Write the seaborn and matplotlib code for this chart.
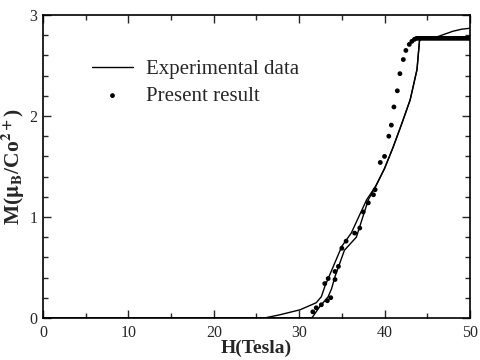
import matplotlib
matplotlib.use("Agg")
import matplotlib.pyplot as plt
import seaborn as sns
import pandas as pd
from matplotlib.ticker import MultipleLocator

# Experimental data, branch A (starts rising earlier, ends rising to 2.87)
exp_a_H = [0, 26.0, 27.7, 30.1, 32.0, 32.6, 33.0, 33.6, 35.0, 36.1, 37.9, 39.0, 40.0, 41.0, 42.0, 43.0, 43.8, 44.1, 44.5, 46.0, 47.0, 48.0, 49.0, 50.0]
exp_a_M = [0, 0.0, 0.03, 0.08, 0.15, 0.21, 0.31, 0.43, 0.71, 0.84, 1.17, 1.31, 1.48, 1.69, 1.92, 2.16, 2.46, 2.75, 2.78, 2.78, 2.81, 2.84, 2.86, 2.87]
# Experimental data, branch B (starts later, ends flat)
exp_b_H = [0, 31.5, 32.4, 33.4, 33.8, 34.2, 35.3, 36.7, 38.1, 39.0, 40.0, 41.0, 42.0, 43.0, 43.8, 44.1, 44.5, 50.0]
exp_b_M = [0, 0.0, 0.11, 0.21, 0.29, 0.41, 0.67, 0.80, 1.17, 1.31, 1.48, 1.69, 1.92, 2.16, 2.46, 2.75, 2.78, 2.78]

# Present result (calculated points)
calc_H = [31.6, 32.0, 32.6, 33.0, 33.3, 33.4, 33.7, 34.2, 34.2, 34.6, 35.0, 35.5, 36.5, 37.1,
          37.5, 38.1, 38.7, 38.9, 39.5, 40.0, 40.5, 40.8, 41.1, 41.5, 41.8, 42.2, 42.5, 42.9, 43.2,
          43.5, 43.75, 44.0, 44.25, 44.5, 44.75, 45.0, 45.25, 45.5, 45.75, 46.0, 46.25, 46.5, 46.75,
          47.0, 47.25, 47.5, 47.75, 48.0, 48.25, 48.5, 48.75, 49.0, 49.25, 49.5, 49.75, 50.0]
calc_M = [0.06, 0.10, 0.13, 0.34, 0.17, 0.39, 0.20, 0.38, 0.46, 0.51, 0.69, 0.76, 0.84, 0.89,
          1.05, 1.14, 1.22, 1.27, 1.54, 1.60, 1.80, 1.91, 2.09, 2.25, 2.42, 2.56, 2.65, 2.71, 2.74,
          2.76, 2.77, 2.77, 2.77, 2.77, 2.77, 2.77, 2.77, 2.77, 2.77, 2.77, 2.77, 2.77, 2.77,
          2.77, 2.77, 2.77, 2.77, 2.77, 2.77, 2.77, 2.77, 2.77, 2.77, 2.77, 2.77, 2.77]

x_ticks = [0, 10, 20, 30, 40, 50]
y_ticks = [0, 1, 2, 3]

sns.set_style("ticks")
plt.rcParams['font.family'] = ['Liberation Serif', 'DejaVu Serif']
plt.rcParams['mathtext.fontset'] = 'stix'

fig = plt.figure(figsize=(4.8, 3.6), dpi=100)
ax = fig.add_axes([0.0896, 0.117, 0.979 - 0.0896, 0.958 - 0.117])

df_a = pd.DataFrame({"H": exp_a_H, "M": exp_a_M})
df_b = pd.DataFrame({"H": exp_b_H, "M": exp_b_M})
df_c = pd.DataFrame({"H": calc_H, "M": calc_M})

sns.lineplot(data=df_a, x="H", y="M", sort=False, color="black", lw=1.0, ax=ax,
             label="Experimental data")
sns.lineplot(data=df_b, x="H", y="M", sort=False, color="black", lw=1.0, ax=ax)
sns.scatterplot(data=df_c, x="H", y="M", color="black", s=12, edgecolor="none", ax=ax,
                label="Present result")

ax.set_xlim(0, 50)
ax.set_ylim(0, 3)
ax.set_xticks(x_ticks)
ax.set_yticks(y_ticks)
ax.xaxis.set_minor_locator(MultipleLocator(5))
ax.yaxis.set_minor_locator(MultipleLocator(0.2))
ax.tick_params(which="both", direction="in", top=True, right=True, labelsize=11.5, width=1.0)
ax.tick_params(axis="x", pad=5)
ax.tick_params(axis="y", pad=4)
ax.tick_params(which="major", length=6)
ax.tick_params(which="minor", length=3.5)
for s in ax.spines.values():
    s.set_linewidth(1.2)
    s.set_color("black")

ax.set_xlabel("H(Tesla)", fontsize=14, fontweight="bold", labelpad=-1)
ax.set_ylabel(r"M($\mathbf{\mu}_\mathbf{B}$/Co$^{\mathbf{2+}}$)", fontsize=15.5, fontweight="bold", labelpad=2)

leg = ax.legend(loc="upper left", bbox_to_anchor=(0.07, 0.915), frameon=False, fontsize=15,
                handlelength=2.0, handletextpad=0.6, labelspacing=0.35, markerscale=1.0)

fig.savefig("out.png", dpi=100)
